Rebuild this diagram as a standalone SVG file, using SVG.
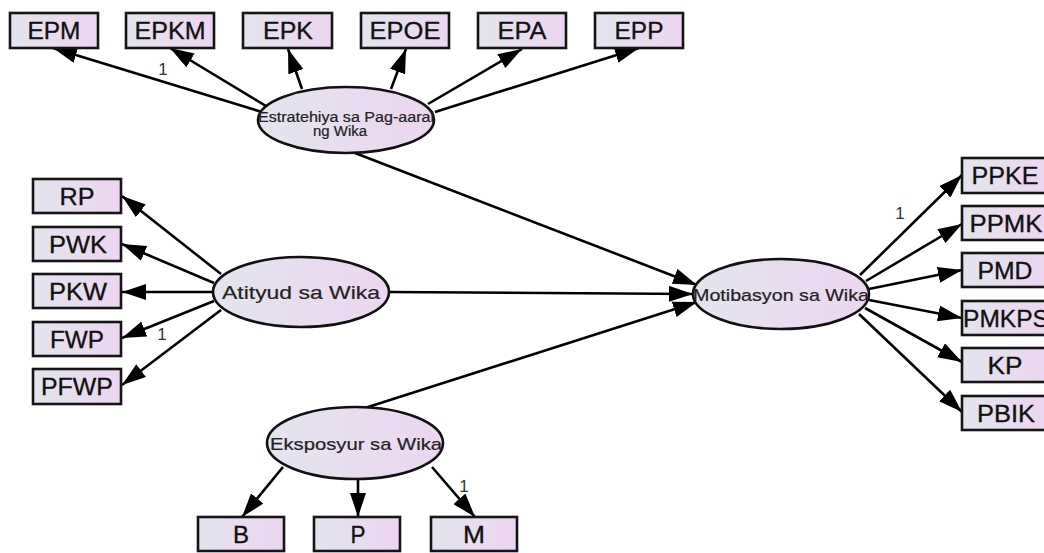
<svg xmlns="http://www.w3.org/2000/svg" width="1044" height="553" viewBox="0 0 1044 553">
<defs>
<linearGradient id="g" x1="0" y1="0" x2="1" y2="0">
<stop offset="0" stop-color="#e3e5ee"/>
<stop offset="1" stop-color="#edd5f1"/>
</linearGradient>
<marker id="ah" viewBox="0 0 24 16" refX="24" refY="8" markerWidth="24" markerHeight="16" markerUnits="userSpaceOnUse" orient="auto">
<path d="M0,0 L24,8 L0,16 z" fill="#000"/>
</marker>
<style>
.box{fill:url(#g);stroke:#151515;stroke-width:2.6}
.ell{fill:url(#g);stroke:#111;stroke-width:2.6}
.bt{font-family:"Liberation Sans",Arial,sans-serif;font-size:23px;fill:#111;stroke:#111;stroke-width:0.3;text-anchor:middle}
.et{font-family:"Liberation Sans",Arial,sans-serif;fill:#222;stroke:#222;stroke-width:0.2;text-anchor:middle}
.lbl{font-family:"Liberation Sans",Arial,sans-serif;font-size:17px;fill:#333;text-anchor:middle}
.c line{stroke:#000;stroke-width:2.6;marker-end:url(#ah)}
</style>
</defs>
<rect width="1044" height="553" fill="#fff"/>
<g id="connectors" class="c">
<line x1="262" y1="112" x2="53" y2="48"/>
<line x1="266" y1="106" x2="170" y2="48"/>
<line x1="302" y1="89" x2="288" y2="49"/>
<line x1="391" y1="89" x2="406" y2="49"/>
<line x1="428" y1="104" x2="522" y2="49"/>
<line x1="435" y1="112" x2="639" y2="48"/>
<line x1="355" y1="153" x2="697" y2="285"/>
<line x1="389" y1="292" x2="693" y2="294"/>
<line x1="365" y1="408" x2="697" y2="302"/>
<line x1="221" y1="274" x2="122" y2="196"/>
<line x1="214" y1="283" x2="122" y2="244"/>
<line x1="213" y1="292" x2="122" y2="292"/>
<line x1="214" y1="301" x2="122" y2="338"/>
<line x1="221" y1="310" x2="122" y2="385"/>
<line x1="860" y1="275" x2="962" y2="175"/>
<line x1="866" y1="281" x2="962" y2="224"/>
<line x1="869" y1="289" x2="962" y2="270"/>
<line x1="869" y1="300" x2="962" y2="318"/>
<line x1="865" y1="308" x2="962" y2="362"/>
<line x1="859" y1="314" x2="962" y2="412"/>
<line x1="283" y1="467" x2="242" y2="517"/>
<line x1="358" y1="480" x2="358" y2="517"/>
<line x1="432" y1="467" x2="475" y2="517"/>
</g>
<g id="labels">
<text class="lbl" x="163" y="75">1</text>
<text class="lbl" x="162" y="340">1</text>
<text class="lbl" x="900" y="219">1</text>
<text class="lbl" x="464" y="492">1</text>
</g>
<g id="EPM"><rect class="box" x="10" y="13" width="88" height="35"/><text class="bt" x="54" y="39" textLength="53" lengthAdjust="spacingAndGlyphs">EPM</text></g>
<g id="EPKM"><rect class="box" x="126" y="13" width="88" height="35"/><text class="bt" x="170" y="39" textLength="71" lengthAdjust="spacingAndGlyphs">EPKM</text></g>
<g id="EPK"><rect class="box" x="243" y="13" width="89" height="35"/><text class="bt" x="288" y="39" textLength="50" lengthAdjust="spacingAndGlyphs">EPK</text></g>
<g id="EPOE"><rect class="box" x="361" y="13" width="88" height="35"/><text class="bt" x="405" y="39" textLength="71" lengthAdjust="spacingAndGlyphs">EPOE</text></g>
<g id="EPA"><rect class="box" x="478" y="13" width="88" height="35"/><text class="bt" x="522" y="39" textLength="49" lengthAdjust="spacingAndGlyphs">EPA</text></g>
<g id="EPP"><rect class="box" x="595" y="13" width="88" height="35"/><text class="bt" x="639" y="39" textLength="49" lengthAdjust="spacingAndGlyphs">EPP</text></g>
<g id="Estratehiya"><ellipse class="ell" cx="346" cy="120" rx="88" ry="33"/><text class="et" font-size="14" x="346" y="122" textLength="176" lengthAdjust="spacingAndGlyphs">Estratehiya sa Pag-aaral</text><text class="et" font-size="14" x="340" y="136" textLength="54" lengthAdjust="spacingAndGlyphs">ng Wika</text></g>
<g id="RP"><rect class="box" x="33" y="179" width="88" height="34"/><text class="bt" x="77" y="205" textLength="35" lengthAdjust="spacingAndGlyphs">RP</text></g>
<g id="PWK"><rect class="box" x="33" y="227" width="88" height="34"/><text class="bt" x="78" y="253" textLength="58" lengthAdjust="spacingAndGlyphs">PWK</text></g>
<g id="PKW"><rect class="box" x="33" y="274" width="88" height="34"/><text class="bt" x="78" y="300" textLength="58" lengthAdjust="spacingAndGlyphs">PKW</text></g>
<g id="FWP"><rect class="box" x="33" y="322" width="88" height="34"/><text class="bt" x="77" y="348" textLength="54" lengthAdjust="spacingAndGlyphs">FWP</text></g>
<g id="PFWP"><rect class="box" x="33" y="369" width="88" height="35"/><text class="bt" x="77" y="395" textLength="72" lengthAdjust="spacingAndGlyphs">PFWP</text></g>
<g id="Atityud"><ellipse class="ell" cx="301" cy="292" rx="88" ry="35"/><text class="et" font-size="19" x="301" y="299" textLength="158" lengthAdjust="spacingAndGlyphs">Atityud sa Wika</text></g>
<g id="Motibasyon"><ellipse class="ell" cx="781" cy="294" rx="88" ry="35"/><text class="et" font-size="17" x="781" y="301" textLength="176" lengthAdjust="spacingAndGlyphs">Motibasyon sa Wika</text></g>
<g id="PPKE"><rect class="box" x="962" y="158" width="88" height="35"/><text class="bt" x="1005" y="184" textLength="67" lengthAdjust="spacingAndGlyphs">PPKE</text></g>
<g id="PPMK"><rect class="box" x="962" y="206" width="88" height="34"/><text class="bt" x="1006" y="232" textLength="73" lengthAdjust="spacingAndGlyphs">PPMK</text></g>
<g id="PMD"><rect class="box" x="962" y="253" width="88" height="34"/><text class="bt" x="1005" y="279" textLength="55" lengthAdjust="spacingAndGlyphs">PMD</text></g>
<g id="PMKPS"><rect class="box" x="962" y="301" width="88" height="34"/><text class="bt" x="1006" y="327" textLength="86" lengthAdjust="spacingAndGlyphs">PMKPS</text></g>
<g id="KP"><rect class="box" x="962" y="348" width="88" height="34"/><text class="bt" x="1005" y="374" textLength="35" lengthAdjust="spacingAndGlyphs">KP</text></g>
<g id="PBIK"><rect class="box" x="962" y="396" width="88" height="34"/><text class="bt" x="1006" y="422" textLength="58" lengthAdjust="spacingAndGlyphs">PBIK</text></g>
<g id="Eksposyur"><ellipse class="ell" cx="355" cy="443" rx="88" ry="36"/><text class="et" font-size="17" x="356" y="450" textLength="172" lengthAdjust="spacingAndGlyphs">Eksposyur sa Wika</text></g>
<g id="B"><rect class="box" x="198" y="517" width="86" height="34"/><text class="bt" x="241" y="543" textLength="16" lengthAdjust="spacingAndGlyphs">B</text></g>
<g id="P"><rect class="box" x="314" y="517" width="86" height="34"/><text class="bt" x="358" y="543" textLength="15" lengthAdjust="spacingAndGlyphs">P</text></g>
<g id="M"><rect class="box" x="431" y="517" width="86" height="34"/><text class="bt" x="474" y="543" textLength="22" lengthAdjust="spacingAndGlyphs">M</text></g>
</svg>
